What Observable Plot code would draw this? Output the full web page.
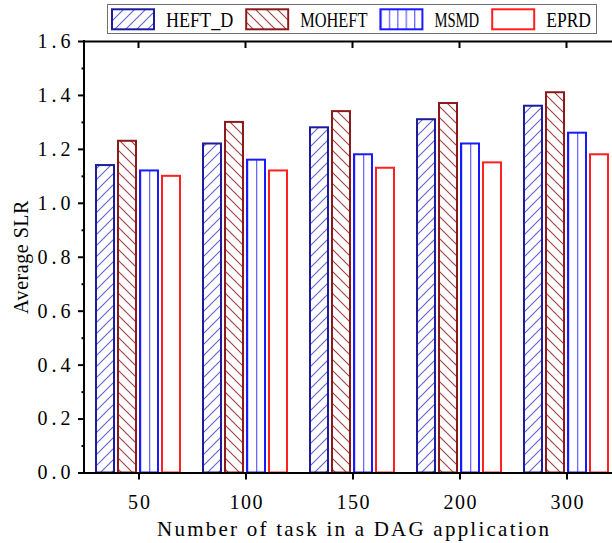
<!DOCTYPE html>
<html>
<head>
<meta charset="utf-8">
<script src="https://cdn.jsdelivr.net/npm/d3@7"></script>
<script src="https://cdn.jsdelivr.net/npm/@observablehq/plot@0.6"></script>
<style>
  html, body { margin: 0; padding: 0; background: #fff; }
  #chart { position: relative; width: 612px; height: 543px; overflow: hidden; font-family: "Liberation Serif", serif; }
  #key { position: absolute; left: 107px; top: 4px; z-index: 2; display: block; }
</style>
</head>
<body>
<!-- fill patterns shared by the bars and the key -->
<svg width="0" height="0" style="position:absolute">
  <defs>
    <pattern id="hatch-fwd" patternUnits="userSpaceOnUse" width="11" height="11">
      <rect width="11" height="11" fill="#fff"/>
      <path d="M-1,1 L1,-1 M0,11 L11,0 M10,12 L12,10" stroke="#6262d4" stroke-width="1.1"/>
    </pattern>
    <pattern id="hatch-back" patternUnits="userSpaceOnUse" width="11" height="11">
      <rect width="11" height="11" fill="#fff"/>
      <path d="M-1,10 L1,12 M0,0 L11,11 M10,-1 L12,1" stroke="#a0403e" stroke-width="1.1"/>
    </pattern>
    <pattern id="vlines-bar" patternUnits="objectBoundingBox" x="0" y="0" width="0.5" height="1">
      <rect width="1000" height="2000" fill="#fff"/>
      <rect x="0" y="0" width="1.3" height="2000" fill="#6a6aff"/>
    </pattern>
    <pattern id="vlines-key" patternUnits="objectBoundingBox" x="0" y="0" width="0.2" height="1">
      <rect width="1000" height="2000" fill="#fff"/>
      <rect x="0" y="0" width="1.3" height="2000" fill="#6a6aff"/>
    </pattern>
  </defs>
</svg>
<div id="chart"></div>
<script>
// Average SLR by DAG size for four scheduling algorithms
const categories = ["50", "100", "150", "200", "300"];
const series = ["HEFT_D", "MOHEFT", "MSMD", "EPRD"];
const heftD  = [1.14, 1.22, 1.28, 1.31, 1.36];
const moheft = [1.23, 1.30, 1.34, 1.37, 1.41];
const msmd   = [1.12, 1.16, 1.18, 1.22, 1.26];
const eprd   = [1.10, 1.12, 1.13, 1.15, 1.18];
const yMajor = [0, 0.2, 0.4, 0.6, 0.8, 1.0, 1.2, 1.4, 1.6];
const yMinor = [0.1, 0.3, 0.5, 0.7, 0.9, 1.1, 1.3, 1.5];
const xTitle = "Number of task in a DAG application";
const yTitle = "Average SLR";

const seriesValues = [heftD, moheft, msmd, eprd];
const rows = series.flatMap((s, k) => categories.map((c, i) => ({n: c, alg: s, v: seriesValues[k][i]})));

const barFill   = ["url(#hatch-fwd)", "url(#hatch-back)", "url(#vlines-bar)", "#fff"];
const keyFill   = ["url(#hatch-fwd)", "url(#hatch-back)", "url(#vlines-key)", "#fff"];
const barStroke = ["#1c1c9c", "#8b1a1a", "#1a1aff", "#ff2020"];

const marginLeft = 84;

const plot = Plot.plot({
  width: 620,
  height: 543,
  marginLeft,
  marginRight: 0,
  marginTop: 41,
  marginBottom: 70.5,
  style: {fontFamily: '"Liberation Serif", serif', fontSize: "20px", color: "#000", background: "transparent", maxWidth: "none", overflow: "visible"},
  fx: {domain: categories, paddingInner: 0, paddingOuter: 0},
  x: {domain: series, paddingInner: 0.18, paddingOuter: 0.442, axis: null},
  y: {domain: [0, 1.6]},
  marks: [
    ...series.map((s, k) => Plot.barY(rows.filter(d => d.alg === s), {
      fx: "n", x: "alg", y: "v",
      fill: barFill[k], stroke: barStroke[k], strokeWidth: 2
    })),
    Plot.ruleY([0, 1.6], {strokeWidth: 2}),
    Plot.axisY({
      ticks: yMajor, tickSize: 7, tickPadding: 8, strokeWidth: 2,
      tickFormat: d => d.toFixed(1), fontSize: 20,
      label: yTitle, labelAnchor: "center", labelOffset: 72, labelArrow: "none"
    }),
    Plot.axisY({ticks: yMinor, tickSize: 3.5, strokeWidth: 2, tickFormat: () => "", label: null}),
    Plot.axisFx({
      anchor: "bottom", tickSize: 7, tickPadding: 15, strokeWidth: 2, fontSize: 20,
      label: xTitle, labelAnchor: "center", labelOffset: 63, labelArrow: "none"
    })
  ]
});

const svg = d3.select(plot);

// half-width character cells: every label gets a fixed advance per character
svg.selectAll("text").each(function() {
  const t = this.textContent;
  if (!t) return;
  const cell = t === xTitle ? 11.2 : t === yTitle ? 10.3 : 11;
  if (t === xTitle) this.setAttribute("font-size", 21);
  this.setAttribute("textLength", t.length * cell);
  this.setAttribute("lengthAdjust", "spacing");
});

// left axis line and inward ticks along the top edge
const y = plot.scale("y");
const fx = plot.scale("fx");
const y0 = y.apply(0), y1 = y.apply(1.6);
svg.append("line")
  .attr("x1", marginLeft).attr("x2", marginLeft)
  .attr("y1", y0 + 1).attr("y2", y1 - 1)
  .attr("stroke", "#000").attr("stroke-width", 2);
svg.append("g").selectAll("line").data(categories).join("line")
  .attr("x1", c => fx.apply(c) + fx.bandwidth / 2)
  .attr("x2", c => fx.apply(c) + fx.bandwidth / 2)
  .attr("y1", y1).attr("y2", y1 + 7)
  .attr("stroke", "#000").attr("stroke-width", 2);

const chart = document.getElementById("chart");
chart.appendChild(plot);
plot.style.position = "absolute";
plot.style.left = "0";
plot.style.top = "0";

// key: swatch + name per series inside a thin grey box
const cellW = 11.2;
const key = d3.select(chart).append("svg").attr("id", "key")
  .attr("width", 505).attr("height", 31)
  .style("font-family", '"Liberation Serif", serif').style("font-size", "20px");
key.append("rect").attr("x", 0.5).attr("y", 0.5).attr("width", 489).attr("height", 29)
  .attr("fill", "#fff").attr("stroke", "#707070").attr("stroke-width", 1);
let cx = 4;
series.forEach((s, k) => {
  key.append("rect").attr("x", cx + 1).attr("y", 5.3).attr("width", 42).attr("height", 20)
    .attr("fill", keyFill[k]).attr("stroke", barStroke[k]).attr("stroke-width", 2);
  const w = s.length * cellW;
  key.append("text").attr("x", cx + 55).attr("y", 15.5).attr("dy", "0.35em")
    .attr("textLength", w).attr("lengthAdjust", "spacingAndGlyphs")
    .attr("fill", "#000").text(s);
  cx += 55 + w + 12;
});
</script>
</body>
</html>
